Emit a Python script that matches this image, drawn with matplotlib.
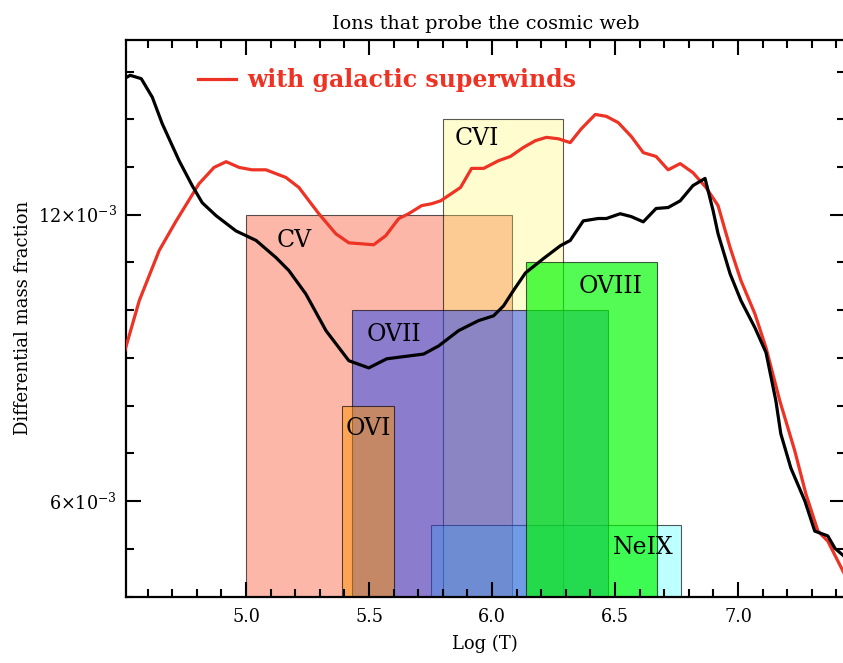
import numpy as np
import matplotlib.pyplot as plt
from matplotlib.patches import Rectangle
from matplotlib.ticker import FixedLocator, MultipleLocator

plt.rcParams['font.family'] = 'DejaVu Serif'
plt.rcParams['mathtext.fontset'] = 'dejavuserif'

# mass fraction curves, y in units of 1e-3
logT_nowind = [4.505, 4.529, 4.574, 4.619, 4.659, 4.728, 4.781, 4.822, 4.878, 4.959,
               5.0, 5.041, 5.122, 5.174, 5.243, 5.325, 5.418, 5.499, 5.572, 5.722,
               5.783, 5.864, 5.945, 6.006, 6.047, 6.087, 6.136, 6.209, 6.278, 6.318,
               6.371, 6.432, 6.465, 6.521, 6.566, 6.615, 6.667, 6.716, 6.765, 6.817,
               6.866, 6.899, 6.919, 6.968, 7.012, 7.069, 7.114, 7.154, 7.174, 7.215,
               7.272, 7.312, 7.365, 7.394, 7.43]
frac_nowind = [14.85, 14.92, 14.85, 14.46, 13.91, 13.13, 12.61, 12.25, 11.98, 11.66,
               11.56, 11.46, 11.10, 10.83, 10.34, 9.57, 8.94, 8.79, 8.98, 9.08,
               9.25, 9.57, 9.78, 9.88, 10.09, 10.41, 10.78, 11.08, 11.35, 11.46,
               11.87, 11.92, 11.92, 12.02, 11.96, 11.85, 12.13, 12.15, 12.29, 12.61,
               12.76, 12.08, 11.60, 10.76, 10.20, 9.63, 9.11, 8.10, 7.41, 6.69,
               6.00, 5.37, 5.27, 5.01, 4.85]

logT_wind = [4.505, 4.566, 4.647, 4.716, 4.809, 4.870, 4.919, 4.972, 5.024, 5.081,
             5.162, 5.215, 5.256, 5.296, 5.365, 5.418, 5.519, 5.568, 5.621, 5.661,
             5.714, 5.755, 5.791, 5.872, 5.917, 5.966, 6.026, 6.075, 6.128, 6.176,
             6.221, 6.270, 6.318, 6.363, 6.420, 6.465, 6.513, 6.566, 6.615, 6.667,
             6.716, 6.765, 6.817, 6.870, 6.919, 6.968, 7.012, 7.069, 7.114, 7.170,
             7.231, 7.276, 7.325, 7.365, 7.43]
frac_wind = [9.11, 10.20, 11.25, 11.87, 12.65, 12.99, 13.11, 12.99, 12.94, 12.94,
             12.78, 12.57, 12.29, 12.02, 11.60, 11.41, 11.37, 11.56, 11.92, 12.02,
             12.19, 12.23, 12.29, 12.57, 12.97, 12.97, 13.13, 13.22, 13.41, 13.55,
             13.62, 13.59, 13.51, 13.80, 14.10, 14.06, 13.93, 13.64, 13.30, 13.22,
             12.94, 13.07, 12.88, 12.57, 12.19, 11.31, 10.62, 9.92, 9.21, 8.10,
             7.05, 6.15, 5.37, 5.16, 4.50]

# ion temperature windows: name, logT_min, logT_max, height (1e-3)
ions = ['CV', 'CVI', 'NeIX', 'OVII', 'OVI', 'OVIII']
ion_lo = [5.00, 5.80, 5.75, 5.43, 5.39, 6.14]
ion_hi = [6.08, 6.29, 6.77, 6.47, 5.60, 6.67]
ion_top = [12.0, 14.0, 5.5, 10.0, 8.0, 11.0]
ion_color = [(0.98, 0.44, 0.33, 0.5), (1.0, 0.98, 0.39, 0.3), (0.16, 1.0, 1.0, 0.3),
             (0.18, 0.30, 0.92, 0.55), (1.0, 0.58, 0.0, 0.5), (0.0, 0.98, 0.0, 0.67)]
label_pos = {'CV': (5.195, 11.45), 'CVI': (5.937, 13.59), 'NeIX': (6.615, 5.035),
             'OVII': (5.60, 9.50), 'OVI': (5.499, 7.51), 'OVIII': (6.48, 10.49)}

red = '#EE3224'

fig = plt.figure(figsize=(8.43, 6.63), dpi=100)
ax = fig.add_axes([126 / 843, 66.5 / 663, 718.5 / 843, 556.5 / 663])

for name, lo, hi, top, col in zip(ions, ion_lo, ion_hi, ion_top, ion_color):
    ax.add_patch(Rectangle((lo, 0), hi - lo, top * 1e-3, facecolor=col,
                           edgecolor=(0, 0, 0, 0.65), lw=0.8, zorder=1))
    lx, ly = label_pos[name]
    ax.text(lx, ly * 1e-3, name, fontsize=17, ha='center', va='center', zorder=3)

ax.plot(logT_wind, np.array(frac_wind) * 1e-3, color=red, lw=2.3, zorder=4,
        label='with galactic superwinds')
ax.plot(logT_nowind, np.array(frac_nowind) * 1e-3, color='black', lw=2.3, zorder=5)

ax.set_xlim(4.512, 7.433)
ax.set_ylim(4.0e-3, 15.66e-3)

ax.xaxis.set_minor_locator(MultipleLocator(0.1))
ax.set_xticks([5.0, 5.5, 6.0, 6.5, 7.0])
ax.set_xticklabels(['5.0', '5.5', '6.0', '6.5', '7.0'])
ax.yaxis.set_major_locator(FixedLocator([6e-3, 12e-3]))
ax.yaxis.set_minor_locator(MultipleLocator(1e-3))
ax.set_yticklabels([r'$6{\times}10^{-3}$', r'$12{\times}10^{-3}$'])

ax.tick_params(which='both', direction='in', top=True, right=True, width=1.5,
               labelsize=12.7)
ax.tick_params(which='major', length=11)
ax.tick_params(which='minor', length=5.5)
ax.tick_params(axis='x', pad=8.5)
ax.tick_params(axis='y', pad=6.5)
for s in ax.spines.values():
    s.set_linewidth(1.6)

ax.set_xlabel('Log (T)', fontsize=13, labelpad=6)
ax.set_ylabel('Differential mass fraction', fontsize=13, labelpad=4.5)
ax.set_title('Ions that probe the cosmic web', fontsize=13.8, pad=8)

leg = ax.legend(loc='center left', bbox_to_anchor=(0.1, 0.928), frameon=False,
                borderpad=0, borderaxespad=0, handlelength=1.6, handletextpad=0.5,
                prop={'weight': 'bold', 'size': 17}, labelcolor=red)

fig.savefig('out.png', dpi=100)
